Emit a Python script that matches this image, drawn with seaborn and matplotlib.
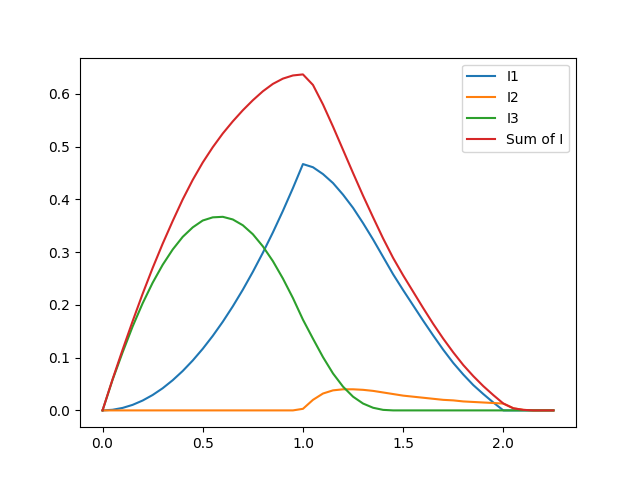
import matplotlib
matplotlib.use("Agg")
import matplotlib.pyplot as plt
import seaborn as sns
import pandas as pd

x = [0.0, 0.05, 0.1, 0.15, 0.2, 0.25, 0.3, 0.35, 0.4, 0.45,
     0.5, 0.55, 0.6, 0.65, 0.7, 0.75, 0.8, 0.85, 0.9, 0.95,
     1.0, 1.05, 1.1, 1.15, 1.2, 1.25, 1.3, 1.35, 1.4, 1.45,
     1.5, 1.55, 1.6, 1.65, 1.7, 1.75, 1.8, 1.85, 1.9, 1.95,
     2.0, 2.05, 2.1, 2.15, 2.2, 2.25]

i1 = [0.0, 0.0012, 0.0047, 0.0105, 0.0187, 0.0292, 0.042, 0.0572, 0.0747, 0.0946,
      0.1168, 0.1413, 0.1681, 0.1973, 0.2288, 0.2627, 0.2989, 0.3374, 0.3783, 0.4215,
      0.467, 0.461, 0.448, 0.431, 0.409, 0.384, 0.355, 0.324, 0.291, 0.258,
      0.228, 0.199, 0.170, 0.142, 0.115, 0.090, 0.068, 0.048, 0.031, 0.015,
      0.0, 0.0, 0.0, 0.0, 0.0, 0.0]

i2 = [0.0, 0.0, 0.0, 0.0, 0.0, 0.0, 0.0, 0.0, 0.0, 0.0,
      0.0, 0.0, 0.0, 0.0, 0.0, 0.0, 0.0, 0.0, 0.0, 0.0,
      0.003, 0.020, 0.032, 0.038, 0.040, 0.040, 0.039, 0.037, 0.034, 0.031,
      0.028, 0.026, 0.024, 0.022, 0.020, 0.019, 0.017, 0.016, 0.015, 0.014,
      0.013, 0.004, 0.001, 0.0, 0.0, 0.0]

i3 = [0.0, 0.058, 0.110, 0.159, 0.203, 0.242, 0.276, 0.305, 0.329, 0.347,
      0.360, 0.366, 0.367, 0.362, 0.351, 0.334, 0.311, 0.283, 0.250, 0.213,
      0.172, 0.136, 0.101, 0.070, 0.045, 0.026, 0.013, 0.005, 0.001, 0.0,
      0.0, 0.0, 0.0, 0.0, 0.0, 0.0, 0.0, 0.0, 0.0, 0.0,
      0.0, 0.0, 0.0, 0.0, 0.0, 0.0]

i_sum = [0.0, 0.059, 0.115, 0.169, 0.221, 0.270, 0.316, 0.359, 0.400, 0.437,
         0.470, 0.499, 0.525, 0.548, 0.569, 0.588, 0.605, 0.619, 0.629, 0.635,
         0.637, 0.617, 0.580, 0.538, 0.494, 0.450, 0.407, 0.366, 0.326, 0.289,
         0.256, 0.225, 0.194, 0.164, 0.136, 0.110, 0.086, 0.065, 0.046, 0.029,
         0.013, 0.004, 0.001, 0.0, 0.0, 0.0]

series = {"I1": i1, "I2": i2, "I3": i3, "Sum of I": i_sum}

fig, ax = plt.subplots(figsize=(6.4, 4.8), dpi=100)
for name, vals in series.items():
    df = pd.DataFrame({"x": x, "y": vals})
    sns.lineplot(data=df, x="x", y="y", label=name, ax=ax)

ax.set_xlabel("")
ax.set_ylabel("")
ax.legend(loc="upper right")
fig.savefig("out.png", dpi=100)
